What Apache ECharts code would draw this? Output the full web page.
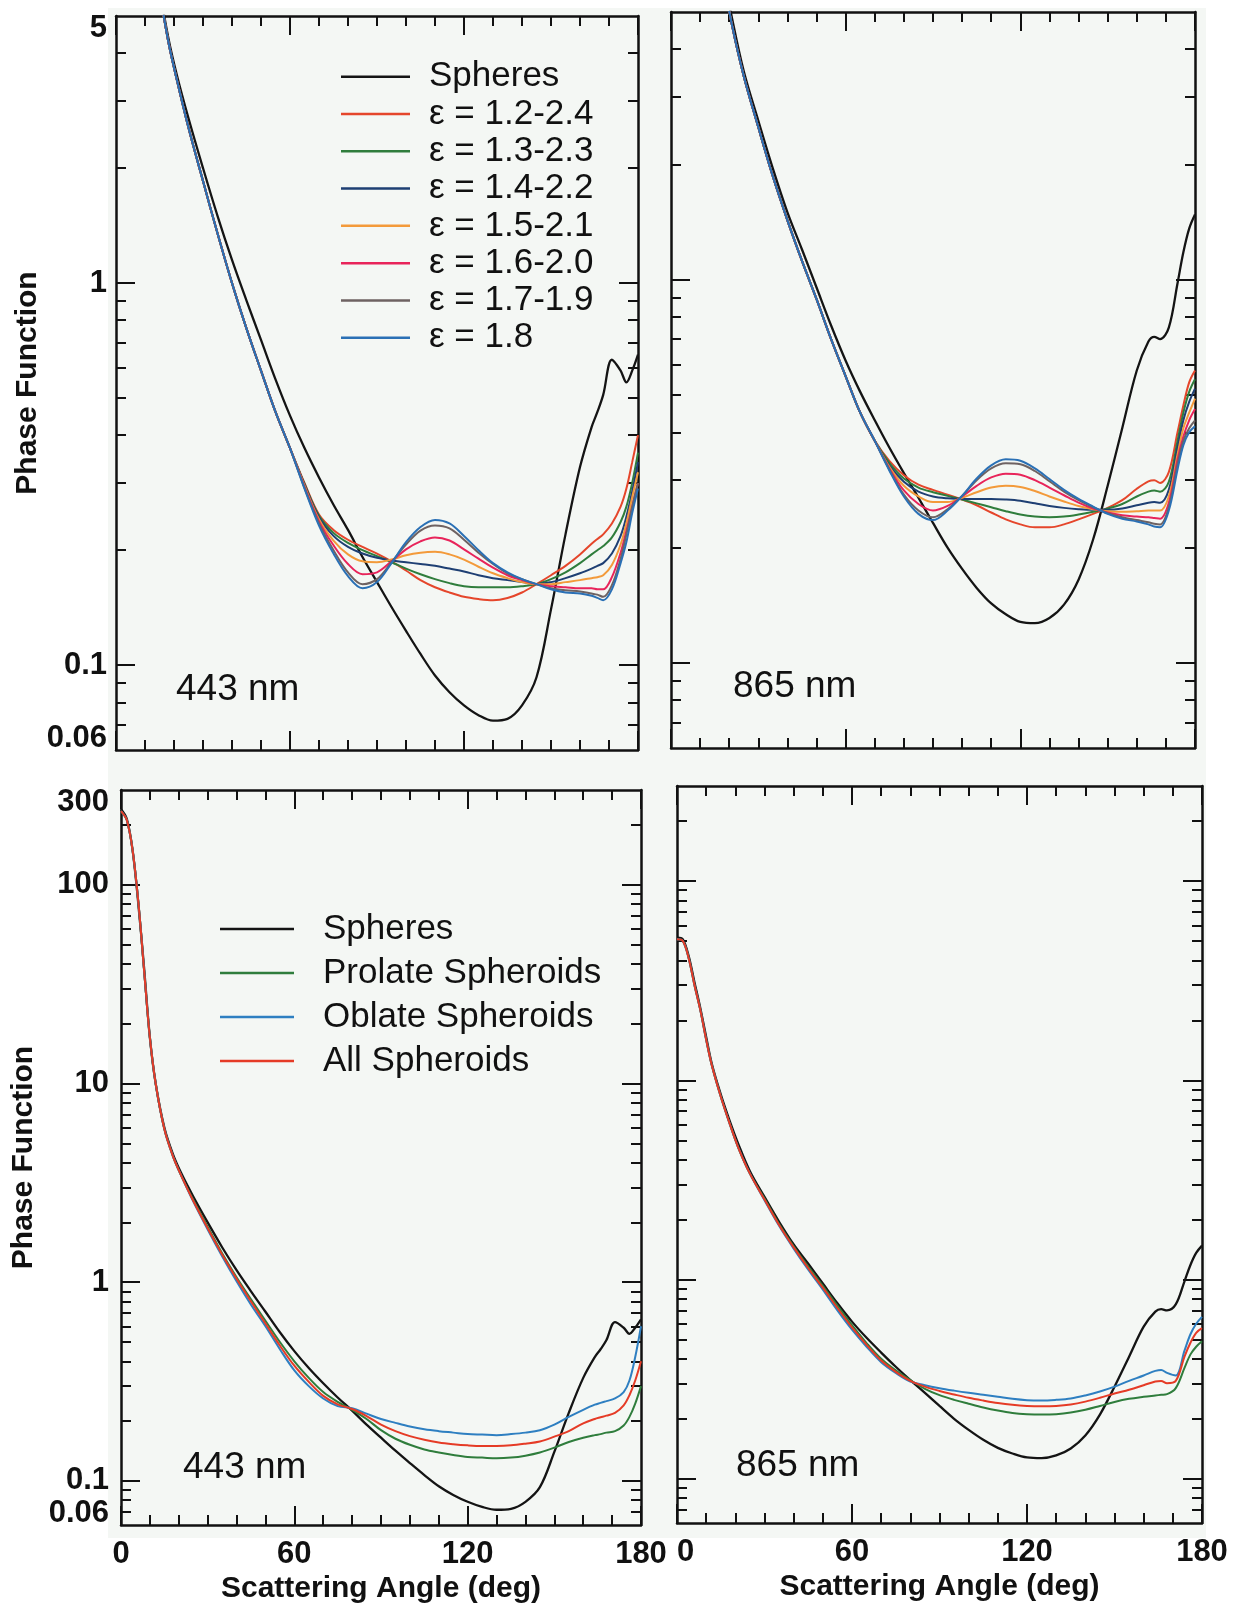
<!DOCTYPE html>
<html><head><meta charset="utf-8">
<script src="https://cdn.jsdelivr.net/npm/echarts@6/dist/echarts.min.js"></script>
<style>html,body{margin:0;padding:0;background:#fff}#c{width:1243px;height:1608px}</style>
</head><body><div id="c"></div>
<script>
// Scattering angles (deg)
const angles = [0, 2, 4, 6, 8, 10, 12, 15, 18, 21, 25, 30, 35, 40, 45, 50, 55, 60, 65, 70, 75, 80, 85, 90, 95, 100, 105, 110, 115, 120, 125, 130, 135, 140, 145, 150, 155, 160, 164, 166, 168, 171, 174, 176, 178, 180];

// ---- 443 nm ----
const spheres443 = [240, 215, 150, 80, 38, 17, 10, 6.0, 4.4, 3.5, 2.7, 2.0, 1.5, 1.15, 0.9, 0.71, 0.56, 0.45, 0.37, 0.31, 0.263, 0.226, 0.192, 0.165, 0.142, 0.123, 0.107, 0.094, 0.085, 0.0785, 0.074, 0.0716, 0.0724, 0.0785, 0.093, 0.14, 0.22, 0.33, 0.42, 0.46, 0.51, 0.63, 0.59, 0.55, 0.59, 0.65];
const eps12_24_443 = [235, 212, 150, 82, 37, 17, 10, 5.9, 4.3, 3.4, 2.55, 1.85, 1.35, 1.0, 0.76, 0.59, 0.46, 0.37, 0.3, 0.248, 0.226, 0.213, 0.204, 0.196, 0.187, 0.177, 0.167, 0.16, 0.155, 0.151, 0.149, 0.148, 0.15, 0.155, 0.163, 0.172, 0.182, 0.195, 0.208, 0.214, 0.22, 0.235, 0.26, 0.29, 0.34, 0.40];
const eps13_23_443 = [235, 212, 150, 82, 37, 17, 10, 5.9, 4.3, 3.4, 2.55, 1.85, 1.35, 1.0, 0.76, 0.59, 0.46, 0.37, 0.298, 0.246, 0.222, 0.209, 0.2, 0.193, 0.186, 0.179, 0.173, 0.168, 0.164, 0.161, 0.16, 0.16, 0.16, 0.161, 0.163, 0.168, 0.175, 0.185, 0.195, 0.2, 0.205, 0.216, 0.237, 0.26, 0.30, 0.36];
const eps14_22_443 = [235, 212, 150, 82, 37, 17, 10, 5.9, 4.3, 3.4, 2.55, 1.85, 1.35, 1.0, 0.76, 0.59, 0.46, 0.37, 0.297, 0.244, 0.218, 0.204, 0.196, 0.191, 0.188, 0.186, 0.184, 0.182, 0.179, 0.176, 0.172, 0.169, 0.167, 0.165, 0.163, 0.165, 0.169, 0.174, 0.179, 0.182, 0.185, 0.196, 0.218, 0.245, 0.285, 0.34];
const eps15_21_443 = [235, 212, 150, 82, 37, 17, 10, 5.9, 4.3, 3.4, 2.55, 1.85, 1.35, 1.0, 0.76, 0.59, 0.46, 0.37, 0.295, 0.241, 0.212, 0.195, 0.187, 0.186, 0.189, 0.194, 0.197, 0.198, 0.195, 0.189, 0.181, 0.174, 0.169, 0.165, 0.163, 0.163, 0.165, 0.167, 0.169, 0.17, 0.172, 0.183, 0.207, 0.235, 0.275, 0.32];
const eps16_20_443 = [235, 212, 150, 82, 37, 17, 10, 5.9, 4.3, 3.4, 2.55, 1.85, 1.35, 1.0, 0.76, 0.59, 0.46, 0.37, 0.293, 0.238, 0.206, 0.184, 0.173, 0.175, 0.187, 0.201, 0.211, 0.216, 0.212, 0.201, 0.19, 0.18, 0.172, 0.167, 0.163, 0.161, 0.16, 0.159, 0.159, 0.158, 0.158, 0.17, 0.197, 0.225, 0.26, 0.30];
const eps17_19_443 = [235, 212, 150, 82, 37, 17, 10, 5.9, 4.3, 3.4, 2.55, 1.85, 1.35, 1.0, 0.76, 0.59, 0.46, 0.37, 0.291, 0.235, 0.2, 0.175, 0.163, 0.168, 0.186, 0.207, 0.225, 0.232, 0.228, 0.213, 0.197, 0.184, 0.174, 0.168, 0.163, 0.159, 0.157, 0.156, 0.154, 0.153, 0.151, 0.162, 0.19, 0.22, 0.26, 0.30];
const eps18_443 = [235, 212, 150, 82, 37, 17, 10, 5.9, 4.3, 3.4, 2.55, 1.85, 1.35, 1.0, 0.76, 0.59, 0.46, 0.37, 0.29, 0.232, 0.196, 0.171, 0.159, 0.165, 0.185, 0.21, 0.23, 0.24, 0.235, 0.218, 0.2, 0.185, 0.175, 0.168, 0.163, 0.158, 0.155, 0.154, 0.152, 0.15, 0.148, 0.158, 0.185, 0.21, 0.25, 0.29];
const prolate443 = [235, 212, 150, 82, 37, 17, 10, 5.9, 4.3, 3.4, 2.6, 1.9, 1.4, 1.06, 0.82, 0.64, 0.5, 0.4, 0.33, 0.28, 0.25, 0.228, 0.205, 0.18, 0.163, 0.152, 0.144, 0.139, 0.135, 0.132, 0.131, 0.13, 0.131, 0.134, 0.139, 0.147, 0.157, 0.165, 0.17, 0.172, 0.175, 0.178, 0.19, 0.21, 0.245, 0.30];
const oblate443 = [235, 212, 150, 82, 37, 17, 10, 5.9, 4.3, 3.4, 2.55, 1.84, 1.35, 1.01, 0.77, 0.6, 0.46, 0.36, 0.3, 0.26, 0.238, 0.232, 0.218, 0.205, 0.196, 0.188, 0.182, 0.178, 0.175, 0.172, 0.171, 0.17, 0.172, 0.175, 0.18, 0.192, 0.21, 0.228, 0.242, 0.247, 0.252, 0.26, 0.28, 0.32, 0.42, 0.60];
const all443 = [235, 212, 150, 82, 37, 17, 10, 5.9, 4.3, 3.4, 2.57, 1.87, 1.38, 1.04, 0.8, 0.62, 0.48, 0.38, 0.315, 0.268, 0.243, 0.23, 0.212, 0.192, 0.178, 0.168, 0.161, 0.156, 0.153, 0.151, 0.15, 0.15, 0.151, 0.154, 0.158, 0.167, 0.178, 0.195, 0.205, 0.209, 0.213, 0.22, 0.24, 0.27, 0.32, 0.40];

// ---- 865 nm ----
const spheres865 = [52, 51, 42, 31, 23, 16.5, 12, 8.5, 6.3, 4.8, 3.5, 2.6, 1.95, 1.5, 1.2, 0.955, 0.76, 0.615, 0.51, 0.43, 0.365, 0.313, 0.27, 0.232, 0.2, 0.176, 0.157, 0.143, 0.134, 0.128, 0.127, 0.131, 0.142, 0.165, 0.21, 0.29, 0.41, 0.58, 0.69, 0.71, 0.70, 0.75, 0.98, 1.18, 1.36, 1.48];
const eps12_24_865 = [51, 50, 41, 30, 22.5, 16, 11.8, 8.3, 6.1, 4.6, 3.4, 2.5, 1.86, 1.43, 1.12, 0.89, 0.7, 0.56, 0.45, 0.38, 0.337, 0.309, 0.292, 0.283, 0.275, 0.267, 0.258, 0.247, 0.237, 0.23, 0.226, 0.226, 0.23, 0.237, 0.245, 0.254, 0.266, 0.285, 0.298, 0.3, 0.295, 0.315, 0.40, 0.47, 0.54, 0.58];
const eps13_23_865 = [51, 50, 41, 30, 22.5, 16, 11.8, 8.3, 6.1, 4.6, 3.4, 2.5, 1.86, 1.43, 1.12, 0.89, 0.7, 0.56, 0.45, 0.38, 0.333, 0.303, 0.287, 0.279, 0.273, 0.267, 0.261, 0.255, 0.249, 0.244, 0.241, 0.24, 0.241, 0.244, 0.248, 0.253, 0.26, 0.272, 0.28, 0.282, 0.28, 0.297, 0.38, 0.45, 0.51, 0.55];
const eps14_22_865 = [51, 50, 41, 30, 22.5, 16, 11.8, 8.3, 6.1, 4.6, 3.4, 2.5, 1.86, 1.43, 1.12, 0.89, 0.7, 0.56, 0.45, 0.38, 0.328, 0.297, 0.28, 0.272, 0.269, 0.268, 0.268, 0.268, 0.267, 0.265, 0.261, 0.257, 0.254, 0.252, 0.251, 0.251, 0.253, 0.258, 0.262, 0.263, 0.262, 0.283, 0.365, 0.43, 0.48, 0.52];
const eps15_21_865 = [51, 50, 41, 30, 22.5, 16, 11.8, 8.3, 6.1, 4.6, 3.4, 2.5, 1.86, 1.43, 1.12, 0.89, 0.7, 0.56, 0.45, 0.38, 0.325, 0.29, 0.272, 0.263, 0.263, 0.27, 0.279, 0.287, 0.29, 0.288, 0.281, 0.272, 0.264, 0.257, 0.252, 0.249, 0.248, 0.249, 0.25, 0.25, 0.25, 0.272, 0.35, 0.41, 0.45, 0.49];
const eps16_20_865 = [51, 50, 41, 30, 22.5, 16, 11.8, 8.3, 6.1, 4.6, 3.4, 2.5, 1.86, 1.43, 1.12, 0.89, 0.7, 0.56, 0.45, 0.38, 0.322, 0.282, 0.26, 0.25, 0.257, 0.272, 0.29, 0.305, 0.312, 0.31, 0.3, 0.287, 0.274, 0.262, 0.253, 0.247, 0.243, 0.241, 0.24, 0.239, 0.238, 0.262, 0.34, 0.39, 0.43, 0.46];
const eps17_19_865 = [51, 50, 41, 30, 22.5, 16, 11.8, 8.3, 6.1, 4.6, 3.4, 2.5, 1.86, 1.43, 1.12, 0.89, 0.7, 0.56, 0.45, 0.38, 0.32, 0.275, 0.25, 0.24, 0.252, 0.273, 0.3, 0.322, 0.332, 0.33, 0.317, 0.298, 0.28, 0.266, 0.255, 0.246, 0.24, 0.236, 0.233, 0.231, 0.23, 0.255, 0.33, 0.38, 0.41, 0.43];
const eps18_865 = [51, 50, 41, 30, 22.5, 16, 11.8, 8.3, 6.1, 4.6, 3.4, 2.5, 1.86, 1.43, 1.12, 0.89, 0.7, 0.56, 0.45, 0.38, 0.318, 0.272, 0.245, 0.236, 0.25, 0.273, 0.303, 0.328, 0.34, 0.337, 0.322, 0.302, 0.283, 0.268, 0.256, 0.245, 0.238, 0.234, 0.23, 0.227, 0.226, 0.25, 0.32, 0.37, 0.40, 0.415];
const prolate865 = [51, 50, 41, 30, 22.5, 16, 11.8, 8.3, 6.1, 4.6, 3.4, 2.55, 1.9, 1.47, 1.16, 0.93, 0.74, 0.59, 0.48, 0.4, 0.35, 0.313, 0.283, 0.263, 0.249, 0.238, 0.228, 0.22, 0.214, 0.211, 0.21, 0.211, 0.215, 0.222, 0.232, 0.243, 0.252, 0.258, 0.262, 0.264, 0.266, 0.285, 0.36, 0.42, 0.46, 0.49];
const oblate865 = [51, 50, 41, 30, 22.5, 16, 11.8, 8.3, 6.1, 4.6, 3.4, 2.5, 1.86, 1.43, 1.12, 0.89, 0.7, 0.56, 0.46, 0.385, 0.34, 0.308, 0.295, 0.285, 0.277, 0.27, 0.264, 0.258, 0.252, 0.248, 0.247, 0.249, 0.253, 0.262, 0.274, 0.29, 0.31, 0.33, 0.348, 0.352, 0.34, 0.33, 0.44, 0.53, 0.6, 0.65];
const all865 = [51, 50, 41, 30, 22.5, 16, 11.8, 8.3, 6.1, 4.6, 3.4, 2.52, 1.88, 1.45, 1.14, 0.91, 0.72, 0.575, 0.47, 0.392, 0.344, 0.31, 0.29, 0.276, 0.265, 0.255, 0.247, 0.24, 0.235, 0.232, 0.231, 0.232, 0.236, 0.244, 0.255, 0.268, 0.28, 0.295, 0.308, 0.31, 0.302, 0.31, 0.41, 0.48, 0.54, 0.57];

// Names, ticks, labels
const topNames = ['Spheres', 'ε = 1.2-2.4', 'ε = 1.3-2.3', 'ε = 1.4-2.2', 'ε = 1.5-2.1', 'ε = 1.6-2.0', 'ε = 1.7-1.9', 'ε = 1.8'];
const bottomNames = ['Spheres', 'Prolate Spheroids', 'Oblate Spheroids', 'All Spheroids'];
const panelLabels = ['443 nm', '865 nm', '443 nm', '865 nm'];
const topYLabels = [0.06, 0.1, 1, 5];
const topYMajor = [0.1, 1];
const topYMinor = [0.07, 0.08, 0.09, 0.2, 0.3, 0.4, 0.5, 0.6, 0.7, 0.8, 0.9, 2, 3, 4];
const botYLabels = [0.06, 0.1, 1, 10, 100, 300];
const botYMajor = [0.1, 1, 10, 100];
const botYMinor = [0.07, 0.08, 0.09, 0.2, 0.3, 0.4, 0.5, 0.6, 0.7, 0.8, 0.9, 2, 3, 4, 5, 6, 7, 8, 9, 20, 30, 40, 50, 60, 70, 80, 90, 200];

const FONT = '"Liberation Sans", Arial, Helvetica, sans-serif';
const INK = '#111';
const topColors = ['#141414', '#e5462b', '#2f7d3c', '#1e3f73', '#f39a3a', '#e8245a', '#6e6262', '#2a70b5'];
const botColors = ['#141414', '#2f7d3c', '#2e7fc1', '#e53b26'];

const grids = [
  {left: 116, top: 16, width: 522, height: 734},
  {left: 671, top: 12, width: 524, height: 736},
  {left: 121, top: 790, width: 520, height: 735},
  {left: 677, top: 786, width: 525, height: 737}
];

const lineSt = {color: INK, width: 2};
const xAxes = [];
const yAxes = [];
grids.forEach((g, gi) => {
  const bottomRow = gi >= 2;
  const leftCol = gi % 2 === 0;
  const xc = {
    type: 'value', gridIndex: gi, min: 0, max: 180, interval: 60,
    splitLine: {show: false}, minorSplitLine: {show: false},
    axisLine: {show: true, onZero: false, lineStyle: {color: INK, width: 2.5}},
    axisTick: {show: true, inside: true, length: 19, lineStyle: lineSt},
    minorTick: {show: true, splitNumber: 6, length: 10, lineStyle: lineSt}
  };
  xAxes.push(Object.assign({}, xc, {
    position: 'bottom',
    axisLabel: {show: bottomRow, margin: 14, fontSize: 31, fontWeight: 'bold', color: INK, fontFamily: FONT,
      showMinLabel: true, showMaxLabel: true, hideOverlap: false,
      alignMinLabel: leftCol ? 'center' : 'left'},
    name: bottomRow ? 'Scattering Angle (deg)' : '',
    nameLocation: 'middle', nameGap: 49,
    nameTextStyle: {fontSize: 30, fontWeight: 'bold', color: INK, fontFamily: FONT}
  }));
  xAxes.push(Object.assign({}, xc, {position: 'top', axisLabel: {show: false}}));

  const ymin = 0.06, ymax = bottomRow ? 300 : 5;
  const major = bottomRow ? botYMajor : topYMajor;
  const minor = bottomRow ? botYMinor : topYMinor;
  const labels = bottomRow ? botYLabels : topYLabels;
  const yc = {type: 'log', logBase: 10, gridIndex: gi, min: ymin, max: ymax, splitLine: {show: false}};
  yAxes.push(Object.assign({}, yc, {
    position: 'left',
    axisLine: {show: true, lineStyle: {color: INK, width: 2.5}},
    axisTick: {show: true, inside: true, length: 19, customValues: major, lineStyle: lineSt},
    axisLabel: {show: leftCol, customValues: labels, margin: bottomRow ? 12 : 9,
      fontSize: 31, fontWeight: 'bold', color: INK, fontFamily: FONT, lineHeight: 24,
      showMinLabel: true, showMaxLabel: true, hideOverlap: false,
      verticalAlignMinLabel: 'bottom', verticalAlignMaxLabel: 'top',
      formatter: v => String(Number(Number(v).toPrecision(4)))},
    name: leftCol ? 'Phase Function' : '',
    nameLocation: 'middle', nameGap: bottomRow ? 82 : 72, nameRotate: 90,
    nameTextStyle: {fontSize: 30, fontWeight: 'bold', color: INK, fontFamily: FONT}
  }));
  yAxes.push(Object.assign({}, yc, {
    position: 'left', axisLine: {show: false}, axisLabel: {show: false},
    axisTick: {show: true, inside: true, length: 10, customValues: minor, lineStyle: lineSt}
  }));
  yAxes.push(Object.assign({}, yc, {
    position: 'right', axisLine: {show: true, lineStyle: {color: INK, width: 2.5}}, axisLabel: {show: false},
    axisTick: {show: true, inside: true, length: 19, customValues: major, lineStyle: lineSt}
  }));
  yAxes.push(Object.assign({}, yc, {
    position: 'right', axisLine: {show: false}, axisLabel: {show: false},
    axisTick: {show: true, inside: true, length: 10, customValues: minor, lineStyle: lineSt}
  }));
});

function mk(name, color, arr, gi, width) {
  return {
    type: 'line', name, xAxisIndex: 2 * gi, yAxisIndex: 4 * gi,
    data: angles.map((a, i) => [a, arr[i]]),
    smooth: 0.35, symbol: 'none', showSymbol: false, clip: true, silent: true,
    lineStyle: {color, width: width || 2}, itemStyle: {color}
  };
}

const topSets = [
  [spheres443, eps12_24_443, eps13_23_443, eps14_22_443, eps15_21_443, eps16_20_443, eps17_19_443, eps18_443],
  [spheres865, eps12_24_865, eps13_23_865, eps14_22_865, eps15_21_865, eps16_20_865, eps17_19_865, eps18_865]
];
const botSets = [
  [spheres443, prolate443, oblate443, all443],
  [spheres865, prolate865, oblate865, all865]
];
const series = [];
topSets.forEach((set, gi) => set.forEach((arr, k) => series.push(mk(topNames[k], topColors[k], arr, gi, k === 0 ? 2.3 : 2))));
botSets.forEach((set, j) => set.forEach((arr, k) => series.push(mk(bottomNames[k], botColors[k], arr, 2 + j, k === 0 ? 2.3 : 2))));

const labelPos = [[176, 690], [733, 687], [183, 1468], [736, 1466]];
const graphic = [
  {type: 'rect', z: -10, silent: true, shape: {x: 108, y: 8, width: 1098, height: 1530}, style: {fill: '#f4f7f4'}}
];
panelLabels.forEach((t, i) => graphic.push({
  type: 'text', silent: true, z: 10, x: labelPos[i][0], y: labelPos[i][1],
  style: {text: t, font: '37px ' + FONT, fill: INK, textAlign: 'left', textVerticalAlign: 'middle', align: 'left', verticalAlign: 'middle'}
}));

const chart = echarts.init(document.getElementById('c'));
chart.setOption({
  animation: false,
  backgroundColor: '#ffffff',
  grid: grids,
  xAxis: xAxes,
  yAxis: yAxes,
  legend: [
    {data: topNames, orient: 'vertical', left: 341, top: 58, padding: 0, icon: 'rect', itemWidth: 69, itemHeight: 2.5, itemGap: 0,
      selectedMode: false, textStyle: {fontSize: 35, color: INK, fontFamily: FONT, lineHeight: 37.3, padding: [0, 0, 0, 14]}},
    {data: bottomNames, orient: 'vertical', left: 220, top: 907, padding: 0, icon: 'rect', itemWidth: 74, itemHeight: 2.5, itemGap: 0,
      selectedMode: false, textStyle: {fontSize: 35, color: INK, fontFamily: FONT, lineHeight: 44, padding: [0, 0, 0, 24]}}
  ],
  graphic,
  series
});
</script></body></html>
